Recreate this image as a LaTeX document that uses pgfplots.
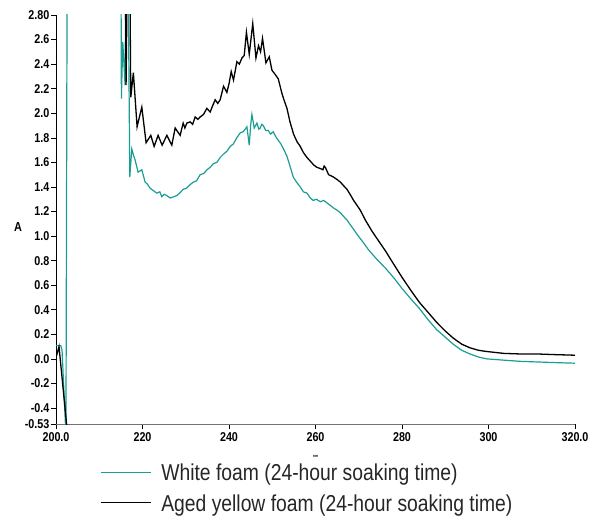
\documentclass[border=0pt]{standalone}
\usepackage{fontspec}
\setmainfont{Liberation Sans}[FakeStretch=0.84]
\usepackage{pgfplots}
\pgfplotsset{compat=1.18}
\definecolor{tealc}{RGB}{26,158,148}
\begin{document}
\begin{tikzpicture}
\useasboundingbox (-56bp,-93bp) rectangle (539bp,424bp);
\begin{axis}[
  scale only axis, width=519bp, height=409bp,
  xmin=200, xmax=320, ymin=-0.53, ymax=2.8,
  enlargelimits=false,
  clip mode=individual,
  axis x line*=bottom, axis y line*=left,
  axis line style={-},
  x axis line style={black!55, line width=0.7bp},
  y axis line style={black, line width=0.8bp},
  xtick={200,220,240,260,280,300,320},
  xticklabels={200.0,220,240,260,280,300,320.0},
  ytick={-0.53,-0.4,-0.2,0,0.2,0.4,0.6,0.8,1.0,1.2,1.4,1.6,1.8,2.0,2.2,2.4,2.6,2.8},
  yticklabels={-0.53,-0.4,-0.2,0.0,0.2,0.4,0.6,0.8,1.0,1.2,1.4,1.6,1.8,2.0,2.2,2.4,2.6,2.80},
  tick align=outside, major tick length=5bp,
  tick style={black, line width=0.6bp},
  ticklabel style={font=\fontsize{12.8bp}{13bp}\selectfont\bfseries},
  yticklabel style={inner sep=1.5bp},
  xticklabel style={inner sep=3bp},
  unbounded coords=jump,
  legend style={draw=none, fill=none, inner sep=0pt, outer sep=0pt,
    at={(0.0848,-0.097)}, anchor=north west,
    font=\fontsize{23bp}{26bp}\selectfont, text=black!85,
    nodes={inner sep=0pt, text height=17bp, text depth=5bp},
    row sep=8.5bp, column sep=10bp},
  legend cell align=left,
  legend image code/.code={\draw[#1, line width=1.3bp] (0bp,2.5bp) -- (50bp,2.5bp); \path (0bp,-8.4bp);},
]
\addplot[tealc, line width=1.2bp] coordinates {
(200.0,0.108) (201.1,0.108) (201.4,0.07) (202.3,-0.62) (202.6,3.5) (208,nan) (215.0,3.5) (215.12,2.12) (215.44,2.58) (215.97,2.23) (216.2,3.5) (216.6,3.5) (217.06,1.48) (217.52,1.71) (217.9,1.66) (218.29,1.62) (218.98,1.52) (219.84,1.54) (220.6,1.44) (221.2,1.42) (221.76,1.39) (222.5,1.37) (223.31,1.35) (224.0,1.36) (224.47,1.32) (225.0,1.34) (225.63,1.33) (226.39,1.31) (227.2,1.32) (227.94,1.33) (228.6,1.35) (229.4,1.38) (230.2,1.39) (231.02,1.42) (231.8,1.44) (232.5,1.45) (233.33,1.50) (234.2,1.51) (234.9,1.54) (235.65,1.56) (236.4,1.59) (237.2,1.60) (237.96,1.64) (238.8,1.67) (239.5,1.69) (240.28,1.73) (241.0,1.75) (241.8,1.80) (242.59,1.84) (243.3,1.85) (244.14,1.89) (244.68,1.74) (245.0,1.90) (245.3,1.99) (245.83,1.88) (246.46,1.92) (246.9,1.87) (247.22,1.88) (247.6,1.91) (247.92,1.90) (248.5,1.86) (249.07,1.86) (249.6,1.83) (250.23,1.85) (250.8,1.81) (251.39,1.78) (252.0,1.75) (252.73,1.70) (253.4,1.65) (254.1,1.57) (254.86,1.48) (255.6,1.44) (256.48,1.40) (257.2,1.36) (258.03,1.35) (258.8,1.31) (259.49,1.29) (260.2,1.30) (261.11,1.28) (261.9,1.29) (262.66,1.27) (263.4,1.25) (264.12,1.23) (265.0,1.21) (265.74,1.19) (266.5,1.16) (267.29,1.13) (268.5,1.07) (269.91,1.00) (271.0,0.95) (272.22,0.89) (274.2,0.81) (276.16,0.74) (278.1,0.66) (280.09,0.57) (282.0,0.49) (284.03,0.41) (286.0,0.32) (287.96,0.24) (289.9,0.18) (291.83,0.12) (293.8,0.07) (295.74,0.04) (297.7,0.015) (299.65,0.00) (303.47,-0.01) (307.41,-0.02) (311.34,-0.025) (315.28,-0.03) (320,-0.035)
};
\addlegendentry{White foam (24-hour soaking time)}
\addplot[black, line width=1.3bp] coordinates {
(200.0,0.01) (200.7,0.10) (202.5,-0.55) (202.6,-0.8) (208,nan) (215.97,3.5) (216.2,2.23) (216.6,3.5) (217.0,3.5) (217.29,2.13) (217.89,2.33) (218.75,1.89) (219.84,2.05) (220.83,1.76) (221.92,1.82) (222.69,1.73) (223.61,1.82) (224.54,1.74) (225.63,1.82) (226.2,1.78) (226.78,1.74) (227.55,1.88) (228.70,1.82) (229.40,1.92) (229.8,1.88) (230.25,1.92) (231.02,1.93) (231.6,1.91) (232.18,1.97) (232.8,1.95) (233.33,1.97) (234.1,1.99) (234.88,2.04) (235.65,2.01) (236.2,2.06) (236.81,2.11) (237.4,2.08) (237.96,2.11) (238.73,2.22) (239.51,2.17) (240.0,2.24) (240.51,2.34) (241.04,2.27) (241.83,2.42) (242.4,2.40) (242.99,2.45) (243.52,2.47) (244.03,2.66) (244.68,2.48) (245.49,2.73) (246.23,2.45) (246.83,2.55) (247.3,2.50) (247.75,2.61) (248.54,2.41) (249.31,2.46) (249.93,2.35) (250.6,2.32) (251.39,2.28) (252.25,2.16) (252.8,2.10) (253.40,2.04) (254.1,1.93) (254.93,1.83) (255.7,1.77) (256.48,1.73) (257.2,1.68) (258.03,1.64) (258.8,1.61) (259.56,1.58) (260.3,1.56) (261.11,1.55) (261.71,1.54) (262.0,1.57) (262.27,1.56) (263.03,1.50) (264.19,1.48) (265.0,1.46) (265.74,1.44) (266.5,1.41) (267.29,1.38) (268.0,1.34) (268.82,1.29) (269.6,1.25) (270.37,1.21) (271.53,1.13) (273.06,1.04) (274.6,0.96) (276.16,0.88) (278.1,0.77) (280.09,0.66) (282.0,0.56) (284.03,0.46) (286.0,0.38) (287.96,0.30) (289.9,0.23) (291.83,0.17) (293.8,0.12) (295.74,0.09) (297.7,0.07) (299.65,0.06) (303.47,0.045) (307.41,0.04) (311.34,0.04) (315.28,0.035) (320,0.03)
};
\addlegendentry{Aged yellow foam (24-hour soaking time)}
\node[font=\fontsize{13bp}{14bp}\selectfont\bfseries] at (axis cs:200,1.07) [xshift=-38bp] {A};
\node[font=\fontsize{4bp}{4bp}\selectfont\bfseries] at (axis cs:260,-0.53) [yshift=-32bp] {nm};
\end{axis}
\end{tikzpicture}
\end{document}
